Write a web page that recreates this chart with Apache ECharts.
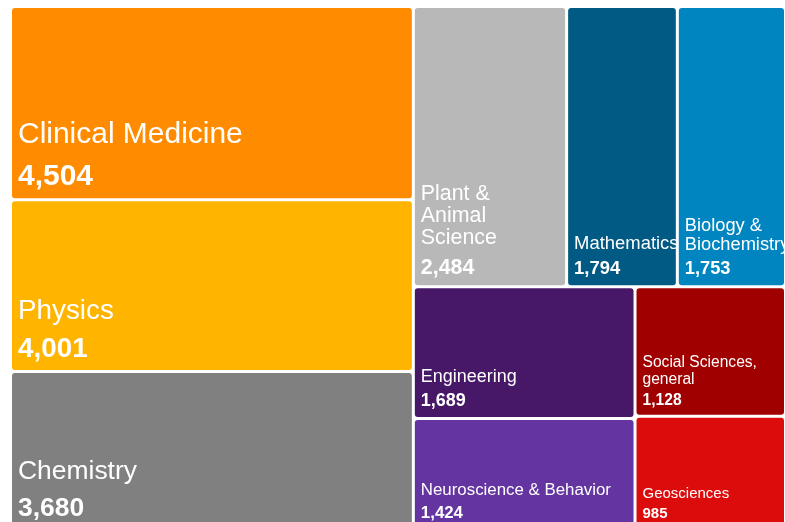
<!DOCTYPE html>
<html>
<head>
<meta charset="utf-8">
<script src="https://cdn.jsdelivr.net/npm/echarts@6/dist/echarts.min.js"></script>
<style>
html, body { margin: 0; padding: 0; background: #fff; }
#main { width: 785px; height: 522px; }
</style>
</head>
<body>
<div id="main"></div>
<script>
// research fields and their counts
var fields = ['Clinical Medicine', 'Physics', 'Chemistry', 'Plant &\nAnimal\nScience', 'Mathematics',
              'Biology &\nBiochemistry', 'Engineering', 'Social Sciences,\ngeneral', 'Neuroscience & Behavior', 'Geosciences'];
var counts = [4504, 4001, 3680, 2484, 1794, 1753, 1689, 1128, 1424, 985];
var palette = ['#ff8c00', '#ffb400', '#808080', '#b8b8b8', '#005a83',
               '#0085c0', '#481868', '#a00000', '#6434a0', '#dc0c0c'];

var FONT = 'Liberation Sans';

function sizeOf(v) { return 10.8 + v / 235; }   // label size grows with the box

// labels sit at the bottom-left of each box; boxH comes from the treemap's own layout
function buildData(boxH) {
    var out = [];
    for (var i = 0; i < fields.length; i++) {
        var f = sizeOf(counts[i]);
        var ln = f * 1.04, sp = f * 0.34 + (f - 18) * 0.1, lv = f;
        var nLines = fields[i].split('\n').length;
        var label = {
            rich: {
                n: { fontSize: f, lineHeight: ln, color: '#fff', fontFamily: FONT },
                s: { fontSize: 2, lineHeight: sp },
                v: { fontSize: f, lineHeight: lv, color: '#fff', fontWeight: 'bold', fontFamily: FONT }
            }
        };
        if (boxH && boxH[fields[i]] != null) {
            var contentH = nLines * ln + sp + lv;
            var bottom = 12 - 0.19 * f - (30 - f) * 0.16;
            var top = boxH[fields[i]] - bottom - contentH;
            label.padding = [Math.max(top, 0), 0, 0, 6];
        }
        out.push({ name: fields[i], value: counts[i], itemStyle: { color: palette[i] }, label: label });
    }
    return out;
}

function makeOption(data) {
    return {
        animation: false,
        series: [{
            type: 'treemap',
            left: 12,
            top: 8,
            width: 772,
            height: 520,
            squareRatio: 1.67,
            roam: false,
            nodeClick: false,
            breadcrumb: { show: false },
            itemStyle: { borderWidth: 0, gapWidth: 3, borderRadius: 3 },
            levels: [{ itemStyle: { borderWidth: 0, gapWidth: 3 } }],
            label: {
                show: true,
                position: 'insideTopLeft',
                distance: 0,
                padding: [0, 0, 0, 6],
                overflow: 'none',
                formatter: function (p) {
                    var lines = p.name.split('\n').map(function (s) { return '{n|' + s + '}'; });
                    return lines.join('\n') + '\n{s| }\n{v|' + p.value.toLocaleString('en-US') + '}';
                }
            },
            data: data
        }]
    };
}

var chart = echarts.init(document.getElementById('main'));
chart.setOption(makeOption(buildData(null)));

// read the box heights from the treemap layout, then push the labels down
var boxH = {};
var root = chart.getModel().getSeriesByIndex(0).getData().tree.root;
root.children.forEach(function (node) {
    var lay = node.getLayout();
    if (lay) boxH[node.name] = lay.height;
});
chart.setOption({ series: [{ data: buildData(boxH) }] });
</script>
</body>
</html>
